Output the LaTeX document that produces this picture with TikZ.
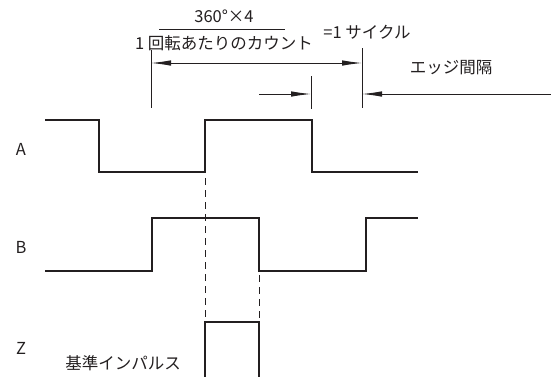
\documentclass[tikz,border=0pt]{standalone}
\usepackage{fontspec}
\setmainfont{Noto Sans CJK JP}
\usetikzlibrary{arrows.meta}
\definecolor{ink}{HTML}{231F20}
\begin{document}
\begin{tikzpicture}[x=1pt,y=-1pt,
  wave/.style={line width=2pt, line join=miter, draw=ink},
  dim/.style={line width=0.9pt, draw=ink},
  arr/.style={dim, -{Latex[length=20pt,width=5.5pt]}},
  dbl/.style={dim, {Latex[length=20pt,width=5.5pt]}-{Latex[length=20pt,width=5.5pt]}},
  dashln/.style={line width=0.9pt, draw=ink, dash pattern=on 7pt off 5pt},
  lbl/.style={font=\fontsize{16.5}{18}\selectfont, text=ink, inner sep=0pt}]
\useasboundingbox (0,0) rectangle (551,376);

% labels
\node[lbl] (la) at (21,149) {A};
\node[lbl] (lb) at (21,247) {B};
\node[lbl] (lz) at (21,348) {Z};
\node[lbl] (ref) at (123,363) {基準インパルス};
\node[lbl] (num) at (224,16) {360°×4};
\node[lbl] (den) at (224,43) {1 回転あたりのカウント};
\node[lbl] (cyc) at (367,32) {=1 サイクル};
\node[lbl] (edge) at (451,68) {エッジ間隔};
\coordinate (fl) at (159,29.3);
\coordinate (fr) at (285,29.3);
\draw[dim] (fl) -- (fr);

% waveform A
\draw[wave] (45,119.5) -- (98.7,119.5) -- (98.7,172) -- (205,172) -- (205,119.5)
  -- (312,119.5) -- (312,172) -- (418,172);
% waveform B
\draw[wave] (45,270.8) -- (152.3,270.8) -- (152.3,218) -- (259,218) -- (259,270.8)
  -- (365.7,270.8) -- (365.7,218) -- (418,218);
% waveform Z
\draw[wave] (204.5,380) -- (204.5,321.7) -- (258.5,321.7) -- (258.5,380);

% dashed guides
\coordinate (d1a) at (205,178);
\coordinate (d1b) at (205,320);
\coordinate (d2a) at (259,275);
\coordinate (d2b) at (259,320);
\draw[dashln] (d1a) -- (d1b);
\draw[dashln] (d2a) -- (d2b);

% dimension lines
\coordinate (t1a) at (151,50);
\coordinate (t1b) at (151,108);
\coordinate (t2a) at (362,48);
\coordinate (t2b) at (362,108);
\coordinate (t3a) at (311,76);
\coordinate (t3b) at (311,109);
\draw[dim] (t1a) -- (t1b);
\draw[dim] (t2a) -- (t2b);
\draw[dim] (t3a) -- (t3b);
\coordinate (p1) at (151,63);
\coordinate (p2) at (362,63);
\draw[dbl] (p1) -- (p2);
\coordinate (q1) at (259,94);
\coordinate (q2) at (311,94);
\draw[arr] (q1) -- (q2);
\coordinate (r1) at (551,94);
\coordinate (r2) at (362,94);
\draw[arr] (r1) -- (r2);
\end{tikzpicture}
\end{document}
